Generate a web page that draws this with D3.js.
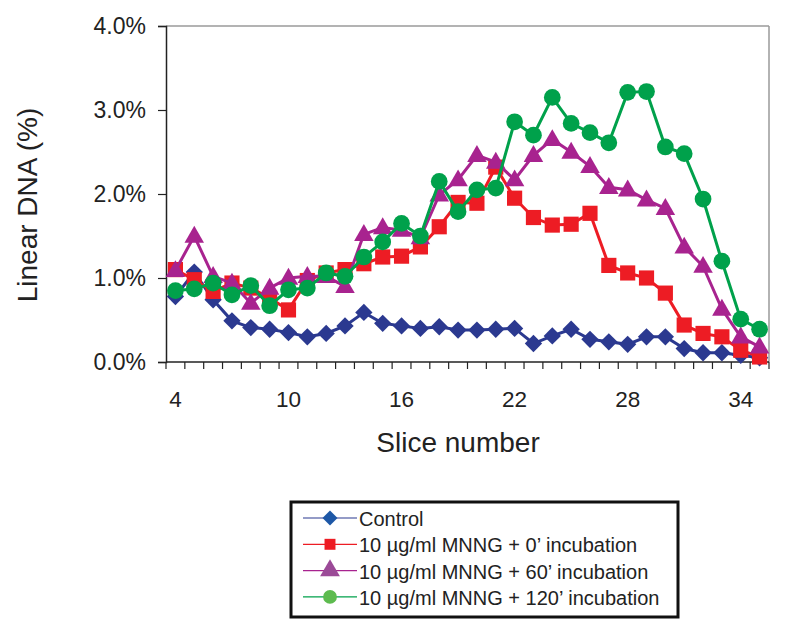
<!DOCTYPE html>
<html><head><meta charset="utf-8">
<script src="https://cdn.jsdelivr.net/npm/d3@7/dist/d3.min.js"></script>
<style>body{margin:0;background:#fff;} svg{display:block;font-family:"Liberation Sans",Arial,sans-serif;}</style>
</head><body>
<svg id="chart" width="788" height="634"></svg>
<script>
const slices = d3.range(4, 36);
const yTicks = [0, 1, 2, 3, 4];
const xTickLabels = [4, 10, 16, 22, 28, 34];
const control = [0.78,1.07,0.74,0.49,0.41,0.39,0.35,0.30,0.34,0.43,0.59,0.46,0.43,0.40,0.42,0.38,0.38,0.39,0.40,0.22,0.31,0.39,0.27,0.24,0.21,0.30,0.30,0.16,0.11,0.11,0.08,0.05];
const mnng0 = [1.10,0.98,0.84,0.94,0.88,0.76,0.62,0.97,1.06,1.10,1.17,1.25,1.26,1.37,1.61,1.90,1.89,2.32,1.95,1.72,1.63,1.64,1.77,1.15,1.06,1.00,0.82,0.44,0.34,0.30,0.14,0.06];
const mnng60 = [1.09,1.50,1.02,0.94,0.70,0.88,1.00,1.02,1.02,0.90,1.52,1.60,1.57,1.48,1.99,2.17,2.46,2.38,2.17,2.46,2.65,2.50,2.33,2.08,2.05,1.93,1.83,1.37,1.14,0.63,0.30,0.18];
const mnng120 = [0.85,0.87,0.94,0.80,0.91,0.67,0.86,0.88,1.06,1.02,1.25,1.43,1.65,1.50,2.15,1.79,2.05,2.07,2.86,2.70,3.15,2.84,2.73,2.61,3.21,3.22,2.56,2.48,1.94,1.20,0.51,0.39];
const seriesNames = ["Control","10 \u00b5g/ml MNNG + 0\u2019 incubation","10 \u00b5g/ml MNNG + 60\u2019 incubation","10 \u00b5g/ml MNNG + 120\u2019 incubation"];

const series = [
  {name: seriesNames[0], values: control, color: "#2b3990", legend: "#1d57a6", sym: "diamond"},
  {name: seriesNames[1], values: mnng0, color: "#ed1c24", legend: "#ed1c24", sym: "square"},
  {name: seriesNames[2], values: mnng60, color: "#a8238f", legend: "#9b4a97", sym: "triangle"},
  {name: seriesNames[3], values: mnng120, color: "#00a14b", legend: "#5dbb4f", sym: "circle"}
];

const svg = d3.select("#chart");
const L = 166, R = 769, T = 26, B = 362;
const x = d3.scaleBand().domain(slices).range([L, R]);
const y = d3.scaleLinear().domain([0, 4]).range([B, T]);

// gray frame top/right
svg.append("line").attr("x1", L).attr("x2", R).attr("y1", T).attr("y2", T).attr("stroke", "#9a9a9a").attr("stroke-width", 1.5);
svg.append("line").attr("x1", R).attr("x2", R).attr("y1", T).attr("y2", B).attr("stroke", "#9a9a9a").attr("stroke-width", 1.5);

// y axis
const yAxis = d3.axisLeft(y).tickValues(yTicks).tickSize(8).tickPadding(12).tickFormat(d => d.toFixed(1) + "%");
const gy = svg.append("g").attr("transform", `translate(${L},0)`).call(yAxis);
gy.select(".domain").attr("stroke", "#222").attr("stroke-width", 1.5);
gy.selectAll(".tick line").attr("stroke", "#222").attr("stroke-width", 1.2);
gy.selectAll("text").attr("font-size", 23).attr("fill", "#222").attr("font-family", "Liberation Sans, Arial, sans-serif");

// x axis: ticks at category boundaries
const xAxisG = svg.append("g");
xAxisG.append("line").attr("x1", L).attr("x2", R).attr("y1", B).attr("y2", B).attr("stroke", "#222").attr("stroke-width", 1.5);
const bounds = slices.map(s => x(s)).concat([x(slices[slices.length - 1]) + x.bandwidth()]);
xAxisG.selectAll("line.tk").data(bounds).join("line").attr("class", "tk")
  .attr("x1", d => d).attr("x2", d => d).attr("y1", B).attr("y2", B + 7).attr("stroke", "#222").attr("stroke-width", 1.2);
xAxisG.selectAll("text").data(xTickLabels).join("text")
  .attr("x", d => x(d) + x.bandwidth() / 2).attr("y", 407).attr("text-anchor", "middle")
  .attr("font-size", 22.5).attr("fill", "#222").text(d => d);

// axis titles
svg.append("text").attr("x", 458).attr("y", 452).attr("text-anchor", "middle").attr("font-size", 28).attr("fill", "#222").text("Slice number");
svg.append("text").attr("transform", "translate(37,205) rotate(-90)").attr("text-anchor", "middle").attr("font-size", 28).attr("fill", "#222").text("Linear DNA (%)");

const symMap = {diamond: d3.symbolSquare, square: d3.symbolSquare, triangle: d3.symbolTriangle, circle: d3.symbolCircle};
const symSize = {diamond: 150, square: 230, triangle: 165, circle: 220};
const cx = i => x(slices[i]) + x.bandwidth() / 2;

const line = d3.line().x((d, i) => cx(i)).y(d => y(d));
series.forEach(s => {
  const g = svg.append("g");
  g.append("path").datum(s.values).attr("d", line).attr("fill", "none").attr("stroke", s.color).attr("stroke-width", 3);
  g.selectAll("path.m").data(s.values).join("path").attr("class", "m")
    .attr("transform", (d, i) => `translate(${cx(i)},${y(d) + (s.sym === "triangle" ? 1 : 0)})` + (s.sym === "diamond" ? " rotate(45)" : ""))
    .attr("d", d3.symbol().type(symMap[s.sym]).size(symSize[s.sym])).attr("fill", s.color);
});

// legend
const lg = svg.append("g");
lg.append("rect").attr("x", 291).attr("y", 502).attr("width", 387).attr("height", 115).attr("fill", "#fff").attr("stroke", "#111").attr("stroke-width", 3);
const lsize = {diamond: 112, square: 120, triangle: 170, circle: 150};
series.forEach((s, i) => {
  const yy = 518 + i * 26.3;
  lg.append("line").attr("x1", 303).attr("x2", 357).attr("y1", yy).attr("y2", yy).attr("stroke", s.color).attr("stroke-width", 1.2);
  lg.append("path").attr("transform", `translate(330,${yy})` + (s.sym === "diamond" ? " rotate(45)" : ""))
    .attr("d", d3.symbol().type(symMap[s.sym]).size(lsize[s.sym])).attr("fill", s.legend);
  lg.append("text").attr("x", 359).attr("y", yy + 8).attr("font-size", 20).attr("fill", "#222").text(s.name);
});
</script>
</body></html>
